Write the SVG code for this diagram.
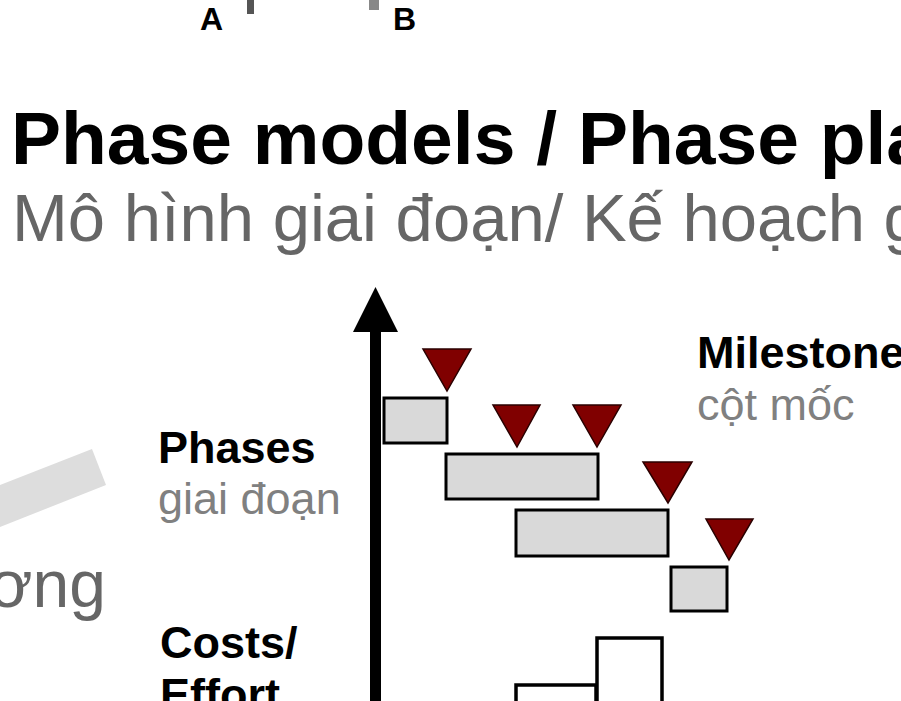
<svg xmlns="http://www.w3.org/2000/svg" width="901" height="701" viewBox="0 0 901 701">
<style>
.b{font-family:"Liberation Sans",Arial,sans-serif;font-weight:bold;fill:#000}
.r{font-family:"Liberation Sans",Arial,sans-serif;fill:#666}
.lg{font-family:"Liberation Sans",Arial,sans-serif;fill:#808080}
.ph{fill:#d9d9d9;stroke:#000;stroke-width:3}
.ms{fill:#800000;stroke:#2a0000;stroke-width:1.5;stroke-linejoin:miter}
.cost{fill:none;stroke:#000;stroke-width:3.5}
</style>
<rect width="901" height="701" fill="#fff"/>
<g id="topmarks">
<rect x="247" y="0" width="7" height="14" fill="#555"/>
<rect x="369" y="0" width="10" height="10" fill="#888"/>
<text class="b" x="200" y="30" font-size="32">A</text>
<text class="b" x="393" y="30" font-size="32">B</text>
</g>
<g id="title">
<text class="b" x="11" y="164" font-size="75">Phase models / Phase pla</text>
<text class="r" x="12" y="241" font-size="67">Mô hình giai đoạn/ Kế hoạch g</text>
</g>
<g id="leftdeco">
<polygon points="0,485 92,449 106,485 0,527" fill="#dddddd"/>
<text class="r" x="106" y="607" font-size="66" text-anchor="end">ơng</text>
</g>
<g id="labels">
<text class="b" x="158" y="463" font-size="45">Phases</text>
<text class="lg" x="158" y="514" font-size="45">giai đoạn</text>
<text class="b" x="697" y="368" font-size="45">Milestone</text>
<text class="lg" x="697" y="420" font-size="45">cột mốc</text>
<text class="b" x="160" y="658" font-size="45">Costs/</text>
<text class="b" x="160" y="710" font-size="45">Effort</text>
</g>
<g id="axis">
<rect x="370" y="328" width="11" height="373" fill="#000"/>
<polygon points="375.5,287 353,332 398,332" fill="#000"/>
</g>
<g id="phases">
<rect id="phase1" class="ph" x="384" y="398" width="63" height="45"/>
<rect id="phase2" class="ph" x="446" y="454" width="152" height="45"/>
<rect id="phase3" class="ph" x="516" y="510" width="152" height="46"/>
<rect id="phase4" class="ph" x="671" y="567" width="56" height="44"/>
</g>
<g id="milestones">
<polygon class="ms" points="423,349 471,349 447,391"/>
<polygon class="ms" points="493,405 540,405 517,447"/>
<polygon class="ms" points="573,405 621,405 597,447"/>
<polygon class="ms" points="643,462 692,462 668,503"/>
<polygon class="ms" points="706,519 753,519 729,560"/>
</g>
<g id="costs">
<path class="cost" d="M516,705 V685 H596 V705"/>
<path class="cost" d="M597,705 V638 H662 V705"/>
</g>
</svg>
